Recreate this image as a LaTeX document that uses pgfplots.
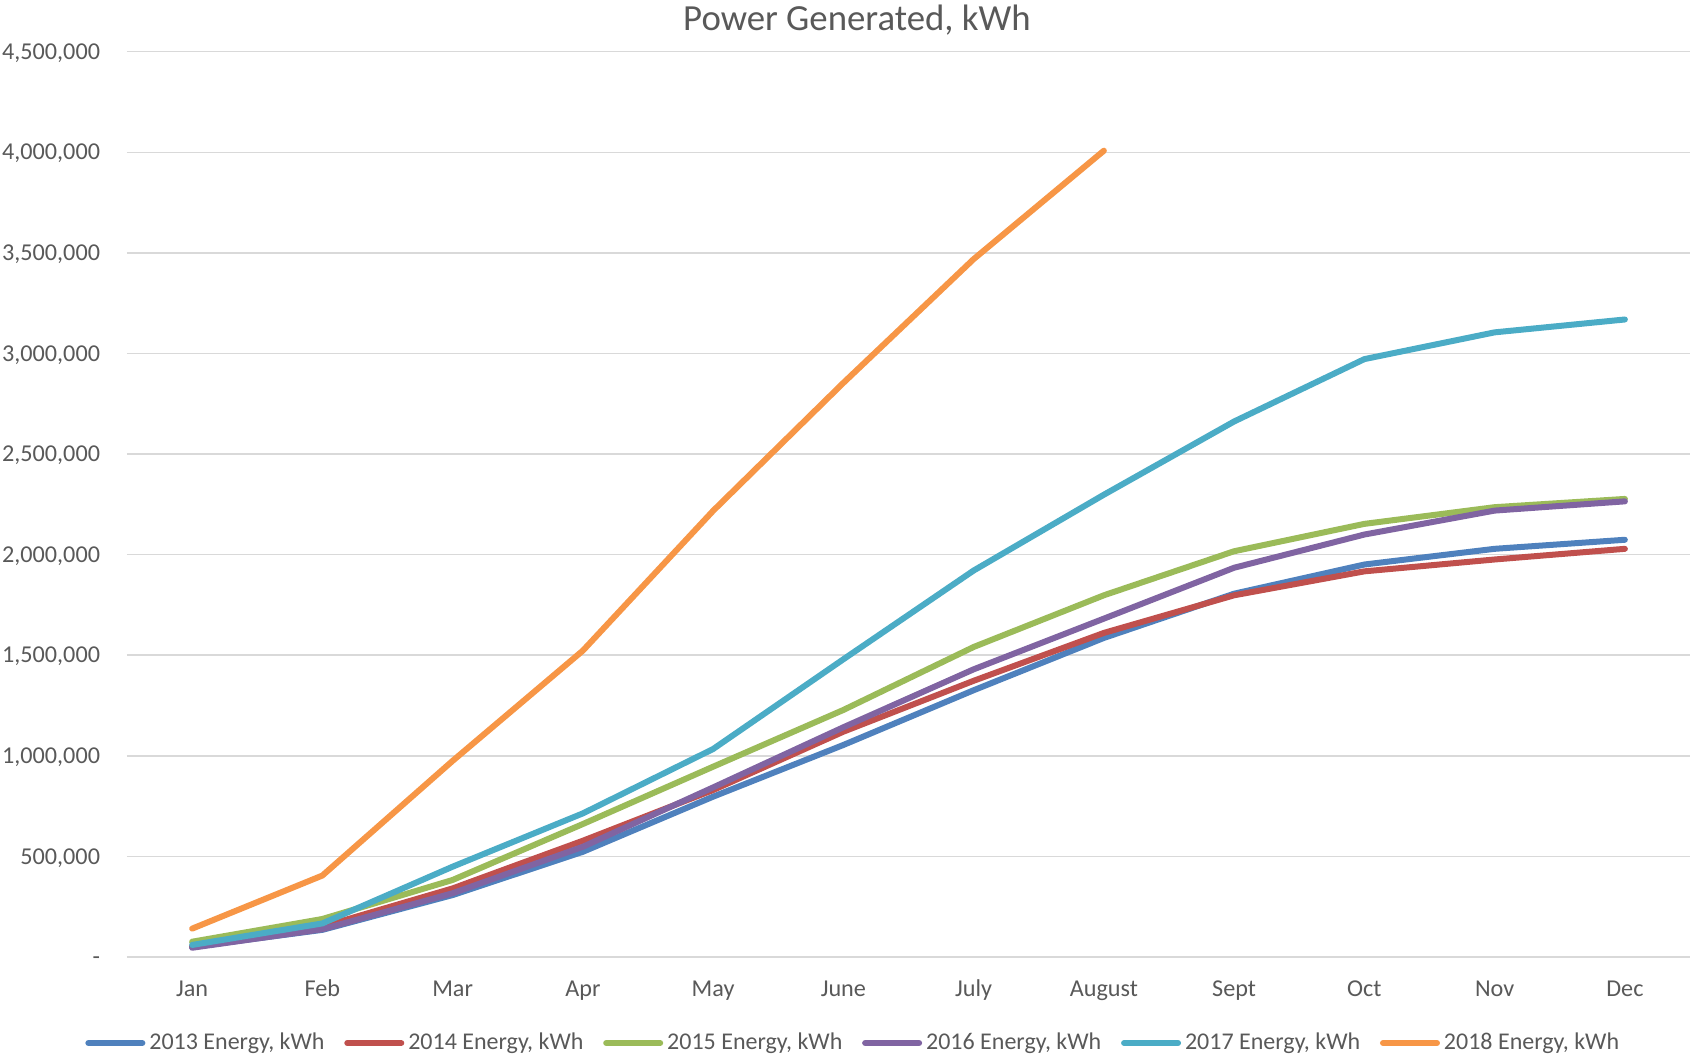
\documentclass[border=0pt]{standalone}
\usepackage{fontspec}
\setmainfont{Carlito}
\usepackage{pgfplots}
\pgfplotsset{compat=1.18}
\definecolor{s13}{HTML}{4F81BD}
\definecolor{s14}{HTML}{C0504D}
\definecolor{s15}{HTML}{9BBB59}
\definecolor{s16}{HTML}{8064A2}
\definecolor{s17}{HTML}{4BACC6}
\definecolor{s18}{HTML}{F79646}
\definecolor{txt}{HTML}{595959}
\definecolor{grd}{HTML}{D9D9D9}
\begin{document}
\begin{tikzpicture}
\begin{axis}[
  at={(0pt,0pt)}, anchor=south west,
  scale only axis, width=781.5pt, height=452.65pt,
  xmin=-0.5, xmax=11.5, ymin=0, ymax=4500000,
  axis line style={draw=none},
  axis x line*=bottom,
  xtick={0,...,11},
  xticklabels={Jan,Feb,Mar,Apr,May,June,July,August,Sept,Oct,Nov,Dec},
  ytick={0,500000,1000000,1500000,2000000,2500000,3000000,3500000,4000000,4500000},
  yticklabels={{-},{500,000},{1,000,000},{1,500,000},{2,000,000},{2,500,000},{3,000,000},{3,500,000},{4,000,000},{4,500,000}},
  scaled y ticks=false,
  major tick length=0pt,
  tick style={draw=none},
  ymajorgrids, grid style={grd, line width=0.75pt},
  ticklabel style={font=\fontsize{12.1}{14.4}\selectfont, text=txt, inner sep=0pt},
  yticklabel style={anchor=base east, xshift=-13.3pt, yshift=-3.8pt},
  xticklabel style={anchor=base, yshift=-19.85pt},
  title={Power Generated, kWh},
  title style={at={(0.467,1)}, anchor=base, yshift=4.6pt, inner sep=0pt, font=\fontsize{18.4}{22}\selectfont, text=txt},
  every axis plot/.append style={line width=3pt, line cap=round, line join=round, no markers},
  legend columns=6,
  legend image code/.code={\draw[#1, line width=3pt, line cap=round] (0pt,0pt)--(27pt,0pt);},
  legend style={at={(0.464,-0.095)}, anchor=center, draw=none, fill=none,
    font=\fontsize{12}{14.4}\selectfont, text=txt,
    nodes={inner sep=0pt},
    /tikz/every odd column/.append style={column sep=2pt},
    /tikz/every even column/.append style={column sep=9.9pt}},
]
\addplot[s13] coordinates {(0,50000)(1,135000)(2,308000)(3,523000)(4,797000)(5,1054000)(6,1326000)(7,1586000)(8,1806000)(9,1951000)(10,2029000)(11,2074000)};
\addlegendentry{2013 Energy, kWh}
\addplot[s14] coordinates {(0,55000)(1,151000)(2,341000)(3,578000)(4,830000)(5,1120000)(6,1373000)(7,1611000)(8,1798000)(9,1917000)(10,1976000)(11,2029000)};
\addlegendentry{2014 Energy, kWh}
\addplot[s15] coordinates {(0,76000)(1,189000)(2,383000)(3,661000)(4,946000)(5,1228000)(6,1541000)(7,1798000)(8,2017000)(9,2153000)(10,2236000)(11,2277000)};
\addlegendentry{2015 Energy, kWh}
\addplot[s16] coordinates {(0,46000)(1,138000)(2,317000)(3,548000)(4,843000)(5,1142000)(6,1430000)(7,1682000)(8,1935000)(9,2100000)(10,2219000)(11,2265000)};
\addlegendentry{2016 Energy, kWh}
\addplot[s17] coordinates {(0,60000)(1,167000)(2,449000)(3,714000)(4,1034000)(5,1480000)(6,1921000)(7,2298000)(8,2662000)(9,2972000)(10,3105000)(11,3169000)};
\addlegendentry{2017 Energy, kWh}
\addplot[s18] coordinates {(0,141000)(1,405000)(2,975000)(3,1523000)(4,2218000)(5,2854000)(6,3469000)(7,4008000)};
\addlegendentry{2018 Energy, kWh}
\end{axis}
\pgfresetboundingbox
\path[use as bounding box] (-63.5pt,-50pt) rectangle (781.5pt,478.5pt);
\end{tikzpicture}
\end{document}
